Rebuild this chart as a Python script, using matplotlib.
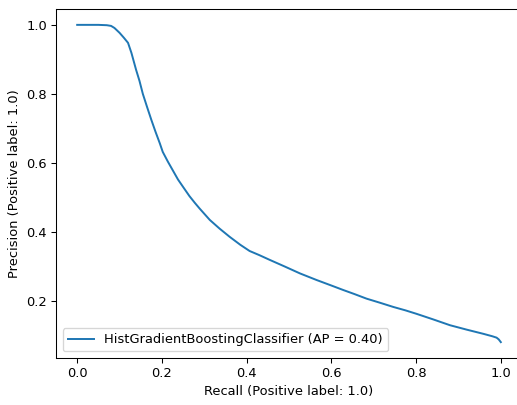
import matplotlib
matplotlib.use("Agg")
import matplotlib.pyplot as plt

recall = [0.0, 0.05, 0.07, 0.08, 0.088, 0.10, 0.11, 0.12, 0.128, 0.139, 0.147, 0.155,
          0.165, 0.175, 0.185, 0.195, 0.202, 0.214, 0.226, 0.238, 0.252, 0.265, 0.278,
          0.289, 0.313, 0.336, 0.36, 0.385, 0.407, 0.43, 0.455, 0.49, 0.526, 0.565,
          0.60, 0.628, 0.655, 0.683, 0.715, 0.746, 0.775, 0.801, 0.84, 0.88, 0.92,
          0.959, 0.98, 0.99, 0.995, 1.0]
precision = [1.0, 1.0, 0.999, 0.997, 0.991, 0.977, 0.963, 0.948, 0.919, 0.87, 0.838, 0.80,
             0.762, 0.725, 0.69, 0.657, 0.632, 0.604, 0.578, 0.552, 0.527, 0.504, 0.484,
             0.468, 0.435, 0.41, 0.386, 0.363, 0.345, 0.333, 0.319, 0.30, 0.28, 0.261,
             0.245, 0.232, 0.22, 0.207, 0.195, 0.183, 0.173, 0.163, 0.147, 0.13, 0.117,
             0.105, 0.098, 0.094, 0.089, 0.081]
label = "HistGradientBoostingClassifier (AP = 0.40)"

dpi = 94
W, H = 517, 405
fig = plt.figure(figsize=(W / dpi, H / dpi), dpi=dpi)
ax = fig.add_axes([56 / W, (H - 358) / H, 466 / W, (358 - 9) / H])
ax.plot(recall, precision, color="#1f77b4", label=label)
ax.set_xlabel("Recall (Positive label: 1.0)")
ax.set_ylabel("Precision (Positive label: 1.0)")
ax.set_xticks([0.0, 0.2, 0.4, 0.6, 0.8, 1.0])
ax.set_yticks([0.2, 0.4, 0.6, 0.8, 1.0])
ax.spines["right"].set_visible(False)
ax.legend(loc="lower left")
fig.savefig("out.png", dpi=dpi)
